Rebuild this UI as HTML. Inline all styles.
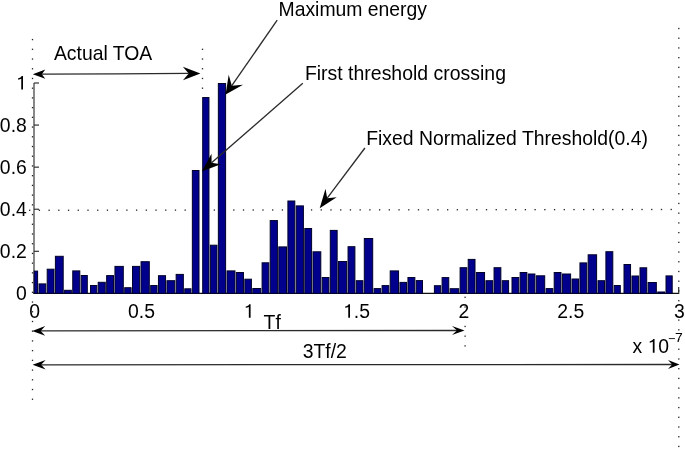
<!DOCTYPE html>
<html><head><meta charset="utf-8"><style>
html,body{margin:0;padding:0;background:#fff;overflow:hidden}
svg{display:block;filter:blur(0.4px)}
</style></head><body>
<svg width="685" height="449" viewBox="0 0 685 449">
<rect width="685" height="449" fill="#fff"/>
<line x1="34" y1="83" x2="34" y2="293.4" stroke="#555" stroke-width="1.4"/>
<line x1="33.3" y1="293.4" x2="679.2" y2="293.4" stroke="#111" stroke-width="1.3"/>
<line x1="34" y1="293.40" x2="39" y2="293.40" stroke="#333" stroke-width="1.2"/>
<text transform="translate(26.8,300.00) scale(0.955,1)" text-anchor="end" font-family="Liberation Sans, sans-serif" font-size="20.3">0</text>
<line x1="34" y1="251.32" x2="39" y2="251.32" stroke="#333" stroke-width="1.2"/>
<text transform="translate(26.8,257.92) scale(0.955,1)" text-anchor="end" font-family="Liberation Sans, sans-serif" font-size="20.3">0.2</text>
<line x1="34" y1="209.24" x2="39" y2="209.24" stroke="#333" stroke-width="1.2"/>
<text transform="translate(26.8,215.84) scale(0.955,1)" text-anchor="end" font-family="Liberation Sans, sans-serif" font-size="20.3">0.4</text>
<line x1="34" y1="167.16" x2="39" y2="167.16" stroke="#333" stroke-width="1.2"/>
<text transform="translate(26.8,173.76) scale(0.955,1)" text-anchor="end" font-family="Liberation Sans, sans-serif" font-size="20.3">0.6</text>
<line x1="34" y1="125.08" x2="39" y2="125.08" stroke="#333" stroke-width="1.2"/>
<text transform="translate(26.8,131.68) scale(0.955,1)" text-anchor="end" font-family="Liberation Sans, sans-serif" font-size="20.3">0.8</text>
<line x1="34" y1="83.00" x2="39" y2="83.00" stroke="#333" stroke-width="1.2"/>
<path d="M21.26,89.60L23.00,89.60L23.00,76.00L21.64,76.00C21.06,77.32 19.70,78.13 18.15,78.33L18.15,79.65C19.51,79.55 20.48,79.25 21.26,78.74Z" fill="#000"/>
<text transform="translate(34.70,317.8) scale(0.955,1)" text-anchor="middle" font-family="Liberation Sans, sans-serif" font-size="20.3">0</text>
<text transform="translate(141.50,317.8) scale(0.955,1)" text-anchor="middle" font-family="Liberation Sans, sans-serif" font-size="20.3">0.5</text>
<path d="M248.84,317.80L250.59,317.80L250.59,304.20L249.23,304.20C248.65,305.52 247.29,306.33 245.74,306.53L245.74,307.85C247.10,307.75 248.07,307.45 248.84,306.94Z" fill="#000"/>
<path d="M348.26,317.80L350.01,317.80L350.01,304.20L348.65,304.20C348.07,305.52 346.71,306.33 345.16,306.53L345.16,307.85C346.52,307.75 347.49,307.45 348.26,306.94Z" fill="#000"/>
<text transform="translate(353.81,317.8) scale(0.955,1)" font-family="Liberation Sans, sans-serif" font-size="20.3">.5</text>
<text transform="translate(464.00,317.8) scale(0.955,1)" text-anchor="middle" font-family="Liberation Sans, sans-serif" font-size="20.3">2</text>
<text transform="translate(570.80,317.8) scale(0.955,1)" text-anchor="middle" font-family="Liberation Sans, sans-serif" font-size="20.3">2.5</text>
<line x1="678.70" y1="293.4" x2="678.70" y2="287.09999999999997" stroke="#333" stroke-width="1.2"/>
<text transform="translate(679.40,317.8) scale(0.955,1)" text-anchor="middle" font-family="Liberation Sans, sans-serif" font-size="20.3">3</text>
<rect x="31.85" y="38.95" width="1.3" height="1.3" fill="#222"/>
<rect x="31.85" y="48.67" width="1.3" height="1.3" fill="#222"/>
<rect x="31.85" y="58.39" width="1.3" height="1.3" fill="#222"/>
<rect x="31.85" y="68.11" width="1.3" height="1.3" fill="#222"/>
<rect x="31.85" y="77.83" width="1.3" height="1.3" fill="#222"/>
<rect x="31.85" y="87.55" width="1.3" height="1.3" fill="#222"/>
<rect x="31.85" y="97.27" width="1.3" height="1.3" fill="#222"/>
<rect x="31.85" y="106.99" width="1.3" height="1.3" fill="#222"/>
<rect x="31.85" y="116.71" width="1.3" height="1.3" fill="#222"/>
<rect x="31.85" y="126.43" width="1.3" height="1.3" fill="#222"/>
<rect x="31.85" y="136.15" width="1.3" height="1.3" fill="#222"/>
<rect x="31.85" y="145.87" width="1.3" height="1.3" fill="#222"/>
<rect x="31.85" y="155.59" width="1.3" height="1.3" fill="#222"/>
<rect x="31.85" y="165.31" width="1.3" height="1.3" fill="#222"/>
<rect x="31.85" y="175.03" width="1.3" height="1.3" fill="#222"/>
<rect x="31.85" y="184.75" width="1.3" height="1.3" fill="#222"/>
<rect x="31.85" y="194.47" width="1.3" height="1.3" fill="#222"/>
<rect x="31.85" y="204.19" width="1.3" height="1.3" fill="#222"/>
<rect x="31.85" y="213.91" width="1.3" height="1.3" fill="#222"/>
<rect x="31.85" y="223.63" width="1.3" height="1.3" fill="#222"/>
<rect x="31.85" y="233.35" width="1.3" height="1.3" fill="#222"/>
<rect x="31.85" y="243.07" width="1.3" height="1.3" fill="#222"/>
<rect x="31.85" y="252.79" width="1.3" height="1.3" fill="#222"/>
<rect x="31.85" y="262.51" width="1.3" height="1.3" fill="#222"/>
<rect x="31.85" y="272.23" width="1.3" height="1.3" fill="#222"/>
<rect x="31.85" y="281.95" width="1.3" height="1.3" fill="#222"/>
<rect x="31.85" y="291.67" width="1.3" height="1.3" fill="#222"/>
<rect x="31.85" y="301.39" width="1.3" height="1.3" fill="#222"/>
<rect x="31.85" y="311.11" width="1.3" height="1.3" fill="#222"/>
<rect x="31.85" y="320.83" width="1.3" height="1.3" fill="#222"/>
<rect x="31.85" y="330.55" width="1.3" height="1.3" fill="#222"/>
<rect x="31.85" y="340.27" width="1.3" height="1.3" fill="#222"/>
<rect x="31.85" y="349.99" width="1.3" height="1.3" fill="#222"/>
<rect x="31.85" y="359.71" width="1.3" height="1.3" fill="#222"/>
<rect x="31.85" y="369.43" width="1.3" height="1.3" fill="#222"/>
<rect x="31.85" y="379.15" width="1.3" height="1.3" fill="#222"/>
<rect x="31.85" y="388.87" width="1.3" height="1.3" fill="#222"/>
<rect x="31.85" y="398.59" width="1.3" height="1.3" fill="#222"/>
<rect x="201.85" y="48.67" width="1.3" height="1.3" fill="#222"/>
<rect x="201.85" y="58.39" width="1.3" height="1.3" fill="#222"/>
<rect x="201.85" y="68.11" width="1.3" height="1.3" fill="#222"/>
<rect x="201.85" y="77.83" width="1.3" height="1.3" fill="#222"/>
<rect x="201.85" y="87.55" width="1.3" height="1.3" fill="#222"/>
<rect x="678.15" y="27.85" width="1.3" height="1.3" fill="#222"/>
<rect x="678.15" y="37.57" width="1.3" height="1.3" fill="#222"/>
<rect x="678.15" y="47.29" width="1.3" height="1.3" fill="#222"/>
<rect x="678.15" y="57.01" width="1.3" height="1.3" fill="#222"/>
<rect x="678.15" y="66.73" width="1.3" height="1.3" fill="#222"/>
<rect x="678.15" y="76.45" width="1.3" height="1.3" fill="#222"/>
<rect x="678.15" y="86.17" width="1.3" height="1.3" fill="#222"/>
<rect x="678.15" y="95.89" width="1.3" height="1.3" fill="#222"/>
<rect x="678.15" y="105.61" width="1.3" height="1.3" fill="#222"/>
<rect x="678.15" y="115.33" width="1.3" height="1.3" fill="#222"/>
<rect x="678.15" y="125.05" width="1.3" height="1.3" fill="#222"/>
<rect x="678.15" y="134.77" width="1.3" height="1.3" fill="#222"/>
<rect x="678.15" y="144.49" width="1.3" height="1.3" fill="#222"/>
<rect x="678.15" y="154.21" width="1.3" height="1.3" fill="#222"/>
<rect x="678.15" y="163.93" width="1.3" height="1.3" fill="#222"/>
<rect x="678.15" y="173.65" width="1.3" height="1.3" fill="#222"/>
<rect x="678.15" y="183.37" width="1.3" height="1.3" fill="#222"/>
<rect x="678.15" y="193.09" width="1.3" height="1.3" fill="#222"/>
<rect x="678.15" y="202.81" width="1.3" height="1.3" fill="#222"/>
<rect x="678.15" y="212.53" width="1.3" height="1.3" fill="#222"/>
<rect x="678.15" y="222.25" width="1.3" height="1.3" fill="#222"/>
<rect x="678.15" y="231.97" width="1.3" height="1.3" fill="#222"/>
<rect x="678.15" y="241.69" width="1.3" height="1.3" fill="#222"/>
<rect x="678.15" y="251.41" width="1.3" height="1.3" fill="#222"/>
<rect x="678.15" y="261.13" width="1.3" height="1.3" fill="#222"/>
<rect x="678.15" y="270.85" width="1.3" height="1.3" fill="#222"/>
<rect x="678.15" y="280.57" width="1.3" height="1.3" fill="#222"/>
<rect x="678.15" y="290.29" width="1.3" height="1.3" fill="#222"/>
<rect x="678.15" y="300.01" width="1.3" height="1.3" fill="#222"/>
<rect x="678.15" y="309.73" width="1.3" height="1.3" fill="#222"/>
<rect x="678.15" y="319.45" width="1.3" height="1.3" fill="#222"/>
<rect x="678.15" y="329.17" width="1.3" height="1.3" fill="#222"/>
<rect x="678.15" y="338.89" width="1.3" height="1.3" fill="#222"/>
<rect x="678.15" y="348.61" width="1.3" height="1.3" fill="#222"/>
<rect x="678.15" y="358.33" width="1.3" height="1.3" fill="#222"/>
<rect x="678.15" y="368.05" width="1.3" height="1.3" fill="#222"/>
<rect x="678.15" y="377.77" width="1.3" height="1.3" fill="#222"/>
<rect x="678.15" y="387.49" width="1.3" height="1.3" fill="#222"/>
<rect x="678.15" y="397.21" width="1.3" height="1.3" fill="#222"/>
<rect x="678.15" y="406.93" width="1.3" height="1.3" fill="#222"/>
<rect x="678.15" y="416.65" width="1.3" height="1.3" fill="#222"/>
<rect x="678.15" y="426.37" width="1.3" height="1.3" fill="#222"/>
<rect x="678.15" y="436.09" width="1.3" height="1.3" fill="#222"/>
<rect x="678.15" y="445.81" width="1.3" height="1.3" fill="#222"/>
<rect x="464.45" y="296.65" width="1.3" height="1.3" fill="#222"/>
<rect x="464.45" y="306.37" width="1.3" height="1.3" fill="#222"/>
<rect x="464.45" y="316.09" width="1.3" height="1.3" fill="#222"/>
<rect x="464.45" y="325.81" width="1.3" height="1.3" fill="#222"/>
<rect x="464.45" y="335.53" width="1.3" height="1.3" fill="#222"/>
<rect x="464.45" y="345.25" width="1.3" height="1.3" fill="#222"/>
<rect x="29.03" y="209.65" width="1.3" height="1.3" fill="#222"/>
<rect x="38.75" y="209.64" width="1.3" height="1.3" fill="#222"/>
<rect x="48.47" y="209.63" width="1.3" height="1.3" fill="#222"/>
<rect x="58.19" y="209.61" width="1.3" height="1.3" fill="#222"/>
<rect x="67.91" y="209.60" width="1.3" height="1.3" fill="#222"/>
<rect x="77.63" y="209.59" width="1.3" height="1.3" fill="#222"/>
<rect x="87.35" y="209.57" width="1.3" height="1.3" fill="#222"/>
<rect x="97.07" y="209.56" width="1.3" height="1.3" fill="#222"/>
<rect x="106.79" y="209.55" width="1.3" height="1.3" fill="#222"/>
<rect x="116.51" y="209.54" width="1.3" height="1.3" fill="#222"/>
<rect x="126.23" y="209.52" width="1.3" height="1.3" fill="#222"/>
<rect x="135.95" y="209.51" width="1.3" height="1.3" fill="#222"/>
<rect x="145.67" y="209.50" width="1.3" height="1.3" fill="#222"/>
<rect x="155.39" y="209.49" width="1.3" height="1.3" fill="#222"/>
<rect x="165.11" y="209.47" width="1.3" height="1.3" fill="#222"/>
<rect x="174.83" y="209.46" width="1.3" height="1.3" fill="#222"/>
<rect x="184.55" y="209.45" width="1.3" height="1.3" fill="#222"/>
<rect x="194.27" y="209.44" width="1.3" height="1.3" fill="#222"/>
<rect x="203.99" y="209.42" width="1.3" height="1.3" fill="#222"/>
<rect x="213.71" y="209.41" width="1.3" height="1.3" fill="#222"/>
<rect x="223.43" y="209.40" width="1.3" height="1.3" fill="#222"/>
<rect x="233.15" y="209.39" width="1.3" height="1.3" fill="#222"/>
<rect x="242.87" y="209.37" width="1.3" height="1.3" fill="#222"/>
<rect x="252.59" y="209.36" width="1.3" height="1.3" fill="#222"/>
<rect x="262.31" y="209.35" width="1.3" height="1.3" fill="#222"/>
<rect x="272.03" y="209.33" width="1.3" height="1.3" fill="#222"/>
<rect x="281.75" y="209.32" width="1.3" height="1.3" fill="#222"/>
<rect x="291.47" y="209.31" width="1.3" height="1.3" fill="#222"/>
<rect x="301.19" y="209.30" width="1.3" height="1.3" fill="#222"/>
<rect x="310.91" y="209.28" width="1.3" height="1.3" fill="#222"/>
<rect x="320.63" y="209.27" width="1.3" height="1.3" fill="#222"/>
<rect x="330.35" y="209.26" width="1.3" height="1.3" fill="#222"/>
<rect x="340.07" y="209.25" width="1.3" height="1.3" fill="#222"/>
<rect x="349.79" y="209.23" width="1.3" height="1.3" fill="#222"/>
<rect x="359.51" y="209.22" width="1.3" height="1.3" fill="#222"/>
<rect x="369.23" y="209.21" width="1.3" height="1.3" fill="#222"/>
<rect x="378.95" y="209.20" width="1.3" height="1.3" fill="#222"/>
<rect x="388.67" y="209.18" width="1.3" height="1.3" fill="#222"/>
<rect x="398.39" y="209.17" width="1.3" height="1.3" fill="#222"/>
<rect x="408.11" y="209.16" width="1.3" height="1.3" fill="#222"/>
<rect x="417.83" y="209.14" width="1.3" height="1.3" fill="#222"/>
<rect x="427.55" y="209.13" width="1.3" height="1.3" fill="#222"/>
<rect x="437.27" y="209.12" width="1.3" height="1.3" fill="#222"/>
<rect x="446.99" y="209.11" width="1.3" height="1.3" fill="#222"/>
<rect x="456.71" y="209.09" width="1.3" height="1.3" fill="#222"/>
<rect x="466.43" y="209.08" width="1.3" height="1.3" fill="#222"/>
<rect x="476.15" y="209.07" width="1.3" height="1.3" fill="#222"/>
<rect x="485.87" y="209.06" width="1.3" height="1.3" fill="#222"/>
<rect x="495.59" y="209.04" width="1.3" height="1.3" fill="#222"/>
<rect x="505.31" y="209.03" width="1.3" height="1.3" fill="#222"/>
<rect x="515.03" y="209.02" width="1.3" height="1.3" fill="#222"/>
<rect x="524.75" y="209.01" width="1.3" height="1.3" fill="#222"/>
<rect x="534.47" y="208.99" width="1.3" height="1.3" fill="#222"/>
<rect x="544.19" y="208.98" width="1.3" height="1.3" fill="#222"/>
<rect x="553.91" y="208.97" width="1.3" height="1.3" fill="#222"/>
<rect x="563.63" y="208.96" width="1.3" height="1.3" fill="#222"/>
<rect x="573.35" y="208.94" width="1.3" height="1.3" fill="#222"/>
<rect x="583.07" y="208.93" width="1.3" height="1.3" fill="#222"/>
<rect x="592.79" y="208.92" width="1.3" height="1.3" fill="#222"/>
<rect x="602.51" y="208.90" width="1.3" height="1.3" fill="#222"/>
<rect x="612.23" y="208.89" width="1.3" height="1.3" fill="#222"/>
<rect x="621.95" y="208.88" width="1.3" height="1.3" fill="#222"/>
<rect x="631.67" y="208.87" width="1.3" height="1.3" fill="#222"/>
<rect x="641.39" y="208.85" width="1.3" height="1.3" fill="#222"/>
<rect x="651.11" y="208.84" width="1.3" height="1.3" fill="#222"/>
<rect x="660.83" y="208.83" width="1.3" height="1.3" fill="#222"/>
<rect x="670.55" y="208.82" width="1.3" height="1.3" fill="#222"/>
<rect x="34.20" y="271.10" width="3.40" height="22.30" fill="#00008c" stroke="#000028" stroke-width="1"/>
<rect x="39.00" y="283.90" width="6.80" height="9.50" fill="#00008c" stroke="#000028" stroke-width="1"/>
<rect x="47.20" y="269.20" width="6.80" height="24.20" fill="#00008c" stroke="#000028" stroke-width="1"/>
<rect x="55.40" y="256.30" width="7.80" height="37.10" fill="#00008c" stroke="#000028" stroke-width="1"/>
<rect x="64.60" y="290.30" width="6.75" height="3.10" fill="#00008c" stroke="#000028" stroke-width="1"/>
<rect x="72.75" y="270.90" width="7.05" height="22.50" fill="#00008c" stroke="#000028" stroke-width="1"/>
<rect x="81.20" y="275.50" width="6.10" height="17.90" fill="#00008c" stroke="#000028" stroke-width="1"/>
<rect x="90.50" y="285.50" width="6.30" height="7.90" fill="#00008c" stroke="#000028" stroke-width="1"/>
<rect x="98.20" y="282.30" width="7.05" height="11.10" fill="#00008c" stroke="#000028" stroke-width="1"/>
<rect x="106.65" y="275.60" width="6.90" height="17.80" fill="#00008c" stroke="#000028" stroke-width="1"/>
<rect x="114.95" y="266.40" width="8.35" height="27.00" fill="#00008c" stroke="#000028" stroke-width="1"/>
<rect x="124.70" y="287.70" width="6.40" height="5.70" fill="#00008c" stroke="#000028" stroke-width="1"/>
<rect x="132.50" y="266.40" width="7.15" height="27.00" fill="#00008c" stroke="#000028" stroke-width="1"/>
<rect x="141.05" y="261.70" width="8.25" height="31.70" fill="#00008c" stroke="#000028" stroke-width="1"/>
<rect x="150.70" y="285.50" width="6.35" height="7.90" fill="#00008c" stroke="#000028" stroke-width="1"/>
<rect x="158.45" y="275.70" width="7.10" height="17.70" fill="#00008c" stroke="#000028" stroke-width="1"/>
<rect x="166.95" y="280.70" width="7.80" height="12.70" fill="#00008c" stroke="#000028" stroke-width="1"/>
<rect x="176.15" y="274.40" width="7.20" height="19.00" fill="#00008c" stroke="#000028" stroke-width="1"/>
<rect x="184.75" y="288.80" width="6.20" height="4.60" fill="#00008c" stroke="#000028" stroke-width="1"/>
<rect x="192.35" y="170.50" width="6.65" height="122.90" fill="#00008c" stroke="#000028" stroke-width="1"/>
<rect x="202.70" y="97.55" width="6.25" height="195.85" fill="#00008c" stroke="#000028" stroke-width="1"/>
<rect x="210.35" y="245.20" width="6.60" height="48.20" fill="#00008c" stroke="#000028" stroke-width="1"/>
<rect x="218.35" y="83.50" width="7.25" height="209.90" fill="#00008c" stroke="#000028" stroke-width="1"/>
<rect x="227.00" y="270.90" width="7.95" height="22.50" fill="#00008c" stroke="#000028" stroke-width="1"/>
<rect x="236.35" y="272.50" width="7.10" height="20.90" fill="#00008c" stroke="#000028" stroke-width="1"/>
<rect x="244.85" y="279.20" width="6.55" height="14.20" fill="#00008c" stroke="#000028" stroke-width="1"/>
<rect x="252.80" y="288.50" width="7.90" height="4.90" fill="#00008c" stroke="#000028" stroke-width="1"/>
<rect x="262.10" y="262.80" width="6.70" height="30.60" fill="#00008c" stroke="#000028" stroke-width="1"/>
<rect x="270.20" y="220.60" width="7.20" height="72.80" fill="#00008c" stroke="#000028" stroke-width="1"/>
<rect x="278.80" y="246.90" width="7.70" height="46.50" fill="#00008c" stroke="#000028" stroke-width="1"/>
<rect x="287.90" y="201.00" width="6.90" height="92.40" fill="#00008c" stroke="#000028" stroke-width="1"/>
<rect x="296.20" y="205.90" width="7.20" height="87.50" fill="#00008c" stroke="#000028" stroke-width="1"/>
<rect x="304.80" y="228.50" width="6.80" height="64.90" fill="#00008c" stroke="#000028" stroke-width="1"/>
<rect x="313.00" y="251.80" width="7.80" height="41.60" fill="#00008c" stroke="#000028" stroke-width="1"/>
<rect x="322.20" y="277.50" width="6.70" height="15.90" fill="#00008c" stroke="#000028" stroke-width="1"/>
<rect x="330.30" y="230.40" width="6.85" height="63.00" fill="#00008c" stroke="#000028" stroke-width="1"/>
<rect x="338.55" y="261.50" width="8.10" height="31.90" fill="#00008c" stroke="#000028" stroke-width="1"/>
<rect x="348.05" y="246.70" width="6.85" height="46.70" fill="#00008c" stroke="#000028" stroke-width="1"/>
<rect x="356.30" y="280.70" width="6.60" height="12.70" fill="#00008c" stroke="#000028" stroke-width="1"/>
<rect x="364.30" y="238.50" width="8.40" height="54.90" fill="#00008c" stroke="#000028" stroke-width="1"/>
<rect x="374.10" y="288.60" width="6.60" height="4.80" fill="#00008c" stroke="#000028" stroke-width="1"/>
<rect x="382.10" y="285.60" width="6.70" height="7.80" fill="#00008c" stroke="#000028" stroke-width="1"/>
<rect x="390.20" y="270.90" width="8.35" height="22.50" fill="#00008c" stroke="#000028" stroke-width="1"/>
<rect x="399.95" y="282.40" width="6.60" height="11.00" fill="#00008c" stroke="#000028" stroke-width="1"/>
<rect x="407.95" y="277.50" width="6.90" height="15.90" fill="#00008c" stroke="#000028" stroke-width="1"/>
<rect x="416.25" y="280.60" width="6.25" height="12.80" fill="#00008c" stroke="#000028" stroke-width="1"/>
<rect x="434.40" y="285.70" width="6.30" height="7.70" fill="#00008c" stroke="#000028" stroke-width="1"/>
<rect x="442.10" y="277.60" width="6.65" height="15.80" fill="#00008c" stroke="#000028" stroke-width="1"/>
<rect x="450.15" y="288.70" width="8.55" height="4.70" fill="#00008c" stroke="#000028" stroke-width="1"/>
<rect x="460.10" y="267.70" width="6.70" height="25.70" fill="#00008c" stroke="#000028" stroke-width="1"/>
<rect x="468.20" y="259.40" width="6.80" height="34.00" fill="#00008c" stroke="#000028" stroke-width="1"/>
<rect x="476.40" y="272.50" width="8.15" height="20.90" fill="#00008c" stroke="#000028" stroke-width="1"/>
<rect x="485.95" y="280.70" width="6.70" height="12.70" fill="#00008c" stroke="#000028" stroke-width="1"/>
<rect x="494.05" y="267.70" width="6.80" height="25.70" fill="#00008c" stroke="#000028" stroke-width="1"/>
<rect x="502.25" y="280.70" width="6.35" height="12.70" fill="#00008c" stroke="#000028" stroke-width="1"/>
<rect x="512.00" y="277.50" width="6.75" height="15.90" fill="#00008c" stroke="#000028" stroke-width="1"/>
<rect x="520.15" y="272.50" width="6.70" height="20.90" fill="#00008c" stroke="#000028" stroke-width="1"/>
<rect x="528.25" y="274.00" width="6.65" height="19.40" fill="#00008c" stroke="#000028" stroke-width="1"/>
<rect x="536.30" y="275.80" width="8.40" height="17.60" fill="#00008c" stroke="#000028" stroke-width="1"/>
<rect x="546.10" y="288.60" width="6.70" height="4.80" fill="#00008c" stroke="#000028" stroke-width="1"/>
<rect x="554.20" y="272.50" width="6.80" height="20.90" fill="#00008c" stroke="#000028" stroke-width="1"/>
<rect x="562.40" y="274.00" width="8.20" height="19.40" fill="#00008c" stroke="#000028" stroke-width="1"/>
<rect x="572.00" y="279.00" width="6.55" height="14.40" fill="#00008c" stroke="#000028" stroke-width="1"/>
<rect x="579.95" y="262.90" width="6.80" height="30.50" fill="#00008c" stroke="#000028" stroke-width="1"/>
<rect x="588.15" y="254.80" width="8.45" height="38.60" fill="#00008c" stroke="#000028" stroke-width="1"/>
<rect x="598.00" y="280.70" width="6.50" height="12.70" fill="#00008c" stroke="#000028" stroke-width="1"/>
<rect x="605.90" y="251.70" width="6.90" height="41.70" fill="#00008c" stroke="#000028" stroke-width="1"/>
<rect x="614.20" y="285.50" width="6.10" height="7.90" fill="#00008c" stroke="#000028" stroke-width="1"/>
<rect x="624.00" y="264.50" width="6.55" height="28.90" fill="#00008c" stroke="#000028" stroke-width="1"/>
<rect x="631.95" y="276.00" width="6.65" height="17.40" fill="#00008c" stroke="#000028" stroke-width="1"/>
<rect x="640.00" y="267.80" width="6.70" height="25.60" fill="#00008c" stroke="#000028" stroke-width="1"/>
<rect x="648.10" y="282.50" width="8.25" height="10.90" fill="#00008c" stroke="#000028" stroke-width="1"/>
<rect x="657.75" y="292.00" width="6.85" height="1.40" fill="#00008c" stroke="#000028" stroke-width="1"/>
<rect x="666.00" y="275.90" width="6.20" height="17.50" fill="#00008c" stroke="#000028" stroke-width="1"/>
<line x1="116.00" y1="73.90" x2="41.80" y2="74.17" stroke="#2a2a2a" stroke-width="1.3"/>
<polygon points="32.80,74.20 45.28,69.55 41.80,74.17 45.32,78.75" fill="#000"/>
<line x1="116.00" y1="73.90" x2="188.70" y2="73.47" stroke="#2a2a2a" stroke-width="1.3"/>
<polygon points="200.40,73.40 182.94,80.20 188.70,73.47 182.86,66.80" fill="#000"/>
<line x1="277.20" y1="20.10" x2="231.81" y2="85.64" stroke="#2a2a2a" stroke-width="1.3"/>
<polygon points="225.60,94.60 228.70,74.85 231.81,85.64 243.00,84.76" fill="#000"/>
<line x1="302.80" y1="83.20" x2="211.59" y2="162.85" stroke="#2a2a2a" stroke-width="1.3"/>
<polygon points="201.80,171.40 211.51,153.63 211.59,162.85 220.72,164.18" fill="#000"/>
<line x1="364.90" y1="148.00" x2="327.21" y2="198.20" stroke="#2a2a2a" stroke-width="1.3"/>
<polygon points="319.70,208.20 325.51,188.80 327.21,198.20 336.71,197.21" fill="#000"/>
<line x1="250.00" y1="330.70" x2="40.70" y2="330.89" stroke="#2a2a2a" stroke-width="1.3"/>
<polygon points="32.20,330.90 45.20,326.09 40.70,330.89 45.20,335.69" fill="#000"/>
<line x1="250.00" y1="330.70" x2="457.00" y2="330.51" stroke="#2a2a2a" stroke-width="1.3"/>
<polygon points="464.50,330.50 452.00,335.11 457.00,330.51 452.00,325.91" fill="#000"/>
<line x1="350.00" y1="364.60" x2="41.10" y2="364.79" stroke="#2a2a2a" stroke-width="1.3"/>
<polygon points="32.60,364.80 45.60,359.99 41.10,364.79 45.60,369.59" fill="#000"/>
<line x1="350.00" y1="364.60" x2="672.20" y2="364.50" stroke="#2a2a2a" stroke-width="1.3"/>
<polygon points="679.50,364.50 668.00,369.10 672.20,364.50 668.00,359.90" fill="#000"/>
<text transform="translate(53.9,60.0) scale(0.955,1)" text-anchor="start" font-family="Liberation Sans, sans-serif" font-size="20.3">Actual TOA</text>
<text transform="translate(278.5,16.1) scale(0.955,1)" text-anchor="start" font-family="Liberation Sans, sans-serif" font-size="20.3">Maximum energy</text>
<text transform="translate(304.9,80.0) scale(0.95882,1)" text-anchor="start" font-family="Liberation Sans, sans-serif" font-size="20.3">First threshold crossing</text>
<text transform="translate(366.2,144.8) scale(0.955,1)" text-anchor="start" font-family="Liberation Sans, sans-serif" font-size="20.3">Fixed Normalized Threshold(0.4)</text>
<text transform="translate(263.6,328.7) scale(0.955,1)" text-anchor="start" font-family="Liberation Sans, sans-serif" font-size="20.3">Tf</text>
<text transform="translate(302.7,358) scale(0.955,1)" text-anchor="start" font-family="Liberation Sans, sans-serif" font-size="20.3">3Tf/2</text>
<text transform="translate(632.5,352.7) scale(0.955,1)" text-anchor="start" font-family="Liberation Sans, sans-serif" font-size="20.3">x </text>
<path d="M652.82,352.70L654.56,352.70L654.56,339.10L653.20,339.10C652.62,340.42 651.27,341.23 649.72,341.43L649.72,342.75C651.07,342.65 652.04,342.35 652.82,341.84Z" fill="#000"/>
<text transform="translate(658.361591,352.7) scale(0.955,1)" text-anchor="start" font-family="Liberation Sans, sans-serif" font-size="20.3">0</text>
<text transform="translate(668.0,343.0) scale(1.0,1)" text-anchor="start" font-family="Liberation Sans, sans-serif" font-size="12.5">−</text>
<text transform="translate(675.0,342.4) scale(1.12,1)" text-anchor="start" font-family="Liberation Sans, sans-serif" font-size="12.5">7</text>
</svg>
</body></html>
